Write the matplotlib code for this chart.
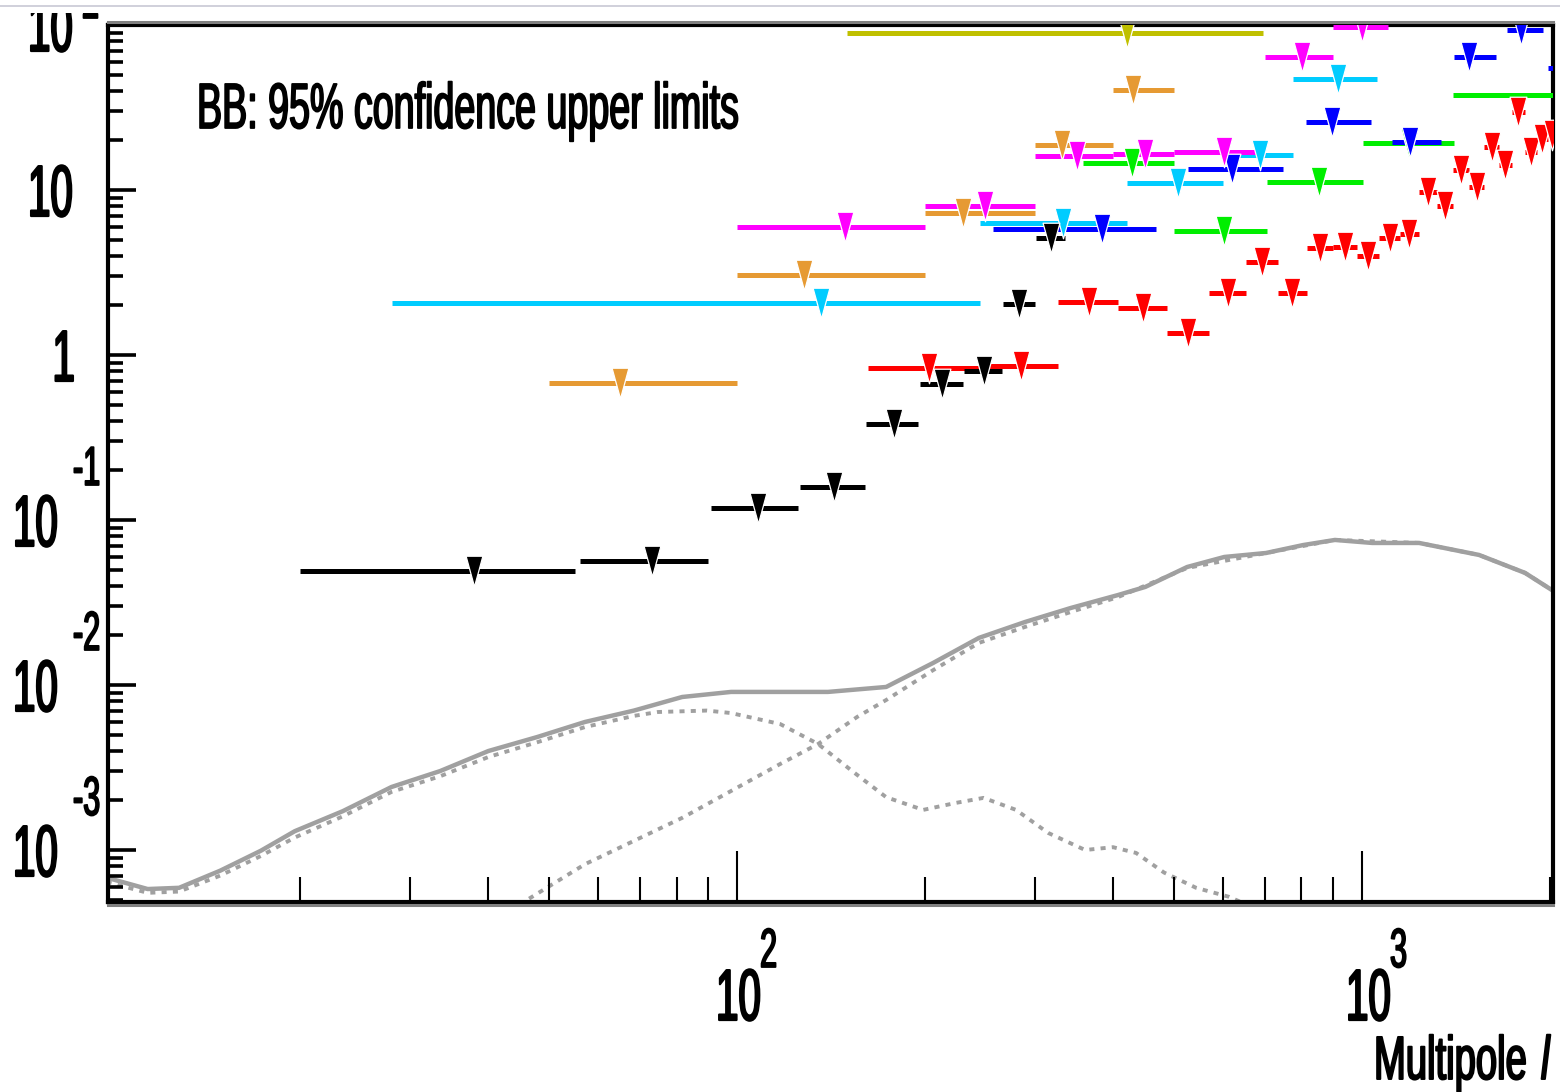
import matplotlib.pyplot as plt
from matplotlib.path import Path
from matplotlib.patches import Rectangle
from matplotlib.lines import Line2D
from matplotlib.transforms import Affine2D
from matplotlib.patheffects import AbstractPathEffect, PathEffectRenderer
from matplotlib.ticker import FixedLocator, LogLocator, NullFormatter

plt.rcParams['font.family'] = ['Liberation Sans', 'DejaVu Sans']

# --- BB 95% upper limits: bin edges, plotted multipole, limit [uK^2] ---
black_lo = [20, 56, 91, 126, 161, 196, 231, 266, 301]
black_hi = [55, 90, 125, 160, 195, 230, 265, 300, 335]
black_l = [38, 73, 108, 143, 178, 213, 248, 283, 318]
black_ul = [0.049, 0.0565, 0.118, 0.158, 0.382, 0.667, 0.80, 2.04, 5.12]

red_lo = [162, 244, 326, 407, 487, 569, 651, 733, 815, 898, 981, 1066,
          1150, 1233, 1317, 1399, 1484, 1570, 1654, 1736, 1821, 1903, 1981]
red_hi = [244, 326, 407, 487, 569, 651, 733, 815, 898, 981, 1066, 1150,
          1233, 1317, 1399, 1484, 1570, 1654, 1736, 1821, 1903, 1981, 2060]
red_l = [203, 285, 366, 447, 527, 611, 692, 773, 857, 939, 1023, 1110,
         1189, 1276, 1358, 1440, 1527, 1614, 1693, 1778, 1864, 1941, 2015]
red_ul = [0.834, 0.857, 2.10, 1.93, 1.36, 2.38, 3.66, 2.38, 4.45, 4.52, 3.98,
          5.12, 5.41, 9.7, 8.0, 13.2, 10.4, 18.2, 14.2, 29.6, 17.0, 20.4, 21.6]

orange_lo = [50, 100, 200, 300, 400]
orange_hi = [100, 200, 300, 400, 500]
orange_l = [65, 128, 230, 331, 430]
orange_ul = [0.676, 3.05, 7.26, 18.7, 40.4]

cyan_lo = [28, 245, 421, 599, 776]
cyan_hi = [245, 421, 599, 776, 1057]
cyan_l = [136, 332, 508, 687, 915]
cyan_ul = [2.07, 6.31, 11.1, 16.3, 47.1]

magenta_lo = [100, 200, 300, 400, 500, 700, 900]
magenta_hi = [200, 300, 400, 500, 700, 900, 1100]
magenta_l = [149, 249, 350, 450, 601, 802, 1000]
magenta_ul = [5.97, 8.0, 16.1, 16.5, 17.0, 64, 97]

green_lo = [358, 500, 705, 1004, 1400]
green_hi = [500, 705, 1004, 1405, 2900]
green_l = [429, 602, 854, 1188, 2150]
green_ul = [14.6, 5.65, 11.2, 19.3, 37.6]

blue_lo = [257, 527, 814, 1117, 1404, 1706, 1985]
blue_hi = [468, 747, 1034, 1338, 1639, 1948, 2400]
blue_l = [384, 619, 895, 1193, 1483, 1796, 2150]
blue_ul = [5.80, 13.4, 25.8, 19.5, 64, 93, 55]

olive_lo = [150]
olive_hi = [694]
olive_l = [421]
olive_ul = [89]

# --- model spectra: total, tensor part, lensing part ---
total_l = [9.8, 11.4, 12.8, 14.9, 17.3, 19.6, 23.4, 28.0, 33.5, 40.0, 47.9,
           57.1, 68.4, 81.7, 97.8, 117.2, 139.8, 173.2, 205.9, 243.8, 289,
           342, 407, 450, 525, 602, 702, 805, 905, 1038, 1234, 1539, 1823, 2036]
total_bb = [6.8e-4, 5.8e-4, 5.9e-4, 7.5e-4, 9.9e-4, 1.30e-3, 1.72e-3, 2.41e-3,
            3.01e-3, 3.98e-3, 4.84e-3, 5.97e-3, 7.0e-3, 8.46e-3, 9.08e-3,
            9.08e-3, 9.08e-3, 9.73e-3, 0.0136, 0.0193, 0.0241, 0.0293, 0.0351,
            0.0393, 0.0519, 0.0597, 0.0631, 0.0705, 0.0757, 0.0726, 0.0726,
            0.0614, 0.0478, 0.0366]

tensor_l = [9.8, 11.4, 12.8, 14.9, 17.3, 19.6, 23.4, 28.0, 33.5, 40.0, 47.9,
            57.1, 68.4, 74.7, 89.5, 97.8, 117.2, 134.8, 152.8, 173.2, 198.5,
            224, 248, 279.5, 314.5, 360.5, 399.6, 434.9, 482.2, 542.6, 612.8,
            686.7]
tensor_bb = [6.4e-4, 5.5e-4, 5.6e-4, 7.0e-4, 9.2e-4, 1.19e-3, 1.6e-3, 2.25e-3,
             2.8e-3, 3.66e-3, 4.5e-3, 5.56e-3, 6.5e-3, 6.86e-3, 7.0e-3, 6.76e-3,
             5.8e-3, 4.39e-3, 3.01e-3, 2.09e-3, 1.75e-3, 1.93e-3, 2.07e-3,
             1.75e-3, 1.27e-3, 1.0e-3, 1.04e-3, 9.6e-4, 7.3e-4, 5.9e-4, 5.2e-4,
             4.3e-4]

lens_l = [43.3, 57.1, 81.8, 117.2, 134.8, 155.6, 173.2, 205.9, 243.8, 289,
          342, 407, 525, 702, 905, 1234, 1539, 1823, 2036]
lens_bb = [4.3e-4, 8.2e-4, 1.57e-3, 3.32e-3, 4.39e-3, 6.4e-3, 8.11e-3, 0.0123,
           0.0180, 0.0225, 0.0277, 0.0341, 0.0512, 0.0631, 0.0757, 0.0726,
           0.0614, 0.0478, 0.0366]

# axis tick labels
x_ticks = [100, 1000]
x_exp = ['2', '3']
y_ticks = [1e-3, 1e-2, 1e-1, 1, 10, 100]
y_base = ['10', '10', '10', '1', '10', '10']
y_exp = ['-3', '-2', '-1', '', '', '2']


class TallGlyphs(AbstractPathEffect):
    """Stretch text glyphs vertically about their baseline and thicken them."""

    def __init__(self, sy, lw=0.0):
        super().__init__()
        self._sy = sy
        self._lw = lw

    def draw_path(self, renderer, gc, tpath, affine, rgbFace=None):
        if isinstance(renderer, PathEffectRenderer):
            renderer = renderer._renderer
        y0 = affine.get_matrix()[1, 2]
        stretch = Affine2D().translate(0, -y0).scale(1, self._sy).translate(0, y0)
        gc0 = renderer.new_gc()
        gc0.copy_properties(gc)
        gc0.set_linewidth(self._lw)
        gc0.set_joinstyle('round')
        renderer.draw_path(gc0, tpath, affine + stretch, rgbFace)
        gc0.restore()


W, H = 1560, 1092
fig = plt.figure(figsize=(W / 100, H / 100), dpi=100)
ax = fig.add_axes([108 / W, 1 - 902 / H, (1553 - 108) / W, (902 - 25) / H])
ax.set_xscale('log')
ax.set_yscale('log')
ax.set_xlim(9.85, 2021)
ax.set_ylim(4.84e-4, 100)

grey = '#a0a0a0'
ax.plot(total_l, total_bb, color=grey, lw=3.2, solid_joinstyle='round', zorder=1)
ax.plot(tensor_l, tensor_bb, color=grey, lw=2.8, ls=(0, (1.3, 1.6)), zorder=1)
ax.plot(lens_l, lens_bb, color=grey, lw=2.8, ls=(0, (1.3, 1.6)), zorder=1)

# long, narrow downward triangle for the limits
tri = Path([(-0.55, 1.0), (0.55, 1.0), (0.0, -1.0), (-0.55, 1.0)],
           [Path.MOVETO, Path.LINETO, Path.LINETO, Path.CLOSEPOLY])

experiments = [
    (olive_lo, olive_hi, olive_l, olive_ul, '#c0c000'),
    (green_lo, green_hi, green_l, green_ul, '#00ee00'),
    (blue_lo, blue_hi, blue_l, blue_ul, '#0000ff'),
    (cyan_lo, cyan_hi, cyan_l, cyan_ul, '#00ccff'),
    (magenta_lo, magenta_hi, magenta_l, magenta_ul, '#ff00ff'),
    (orange_lo, orange_hi, orange_l, orange_ul, '#e69a33'),
    (red_lo, red_hi, red_l, red_ul, '#ff0000'),
    (black_lo, black_hi, black_l, black_ul, '#000000'),
]
for lo, hi, ell, ul, col in experiments:
    ax.hlines(ul, lo, hi, colors=col, lw=3.6, capstyle='butt', zorder=3)
    ax.plot(ell, ul, ls='none', marker=tri, ms=22, mfc=col, mec='white',
            mew=0.9, zorder=4)

# ROOT-like frame and ticks
for sp in ax.spines.values():
    sp.set_linewidth(3)
    sp.set_zorder(2)
ax.xaxis.set_major_locator(FixedLocator(x_ticks))
ax.xaxis.set_minor_locator(LogLocator(base=10, subs=range(2, 10), numticks=20))
ax.yaxis.set_major_locator(FixedLocator(y_ticks))
ax.yaxis.set_minor_locator(LogLocator(base=10, subs=range(2, 10), numticks=20))
ax.xaxis.set_minor_formatter(NullFormatter())
ax.yaxis.set_minor_formatter(NullFormatter())
ax.tick_params(axis='x', which='major', direction='in', length=37, width=1.5,
               top=False, labelbottom=False)
ax.tick_params(axis='x', which='minor', direction='in', length=18, width=1.5,
               top=False)
ax.tick_params(axis='y', which='major', direction='in', length=20, width=2.6,
               right=False, labelleft=False)
ax.tick_params(axis='y', which='minor', direction='in', length=11, width=2.6,
               right=False)

# tick labels: stretched "10" with a raised exponent
base_fx = dict(fontsize=29, path_effects=[TallGlyphs(1.8, 1.6)],
               annotation_clip=False, textcoords='offset pixels', va='baseline')
exp_fx = dict(fontsize=22, path_effects=[TallGlyphs(1.8, 1.3)],
              annotation_clip=False, textcoords='offset pixels', va='baseline')
for v, b, e in zip(y_ticks, y_base, y_exp):
    if e.startswith('-'):
        ax.annotate(b, (0, v), xycoords=('axes fraction', 'data'),
                    xytext=(-50, -26), ha='right', **base_fx)
        ax.annotate(e, (0, v), xycoords=('axes fraction', 'data'),
                    xytext=(-35, 35), ha='left', **exp_fx)
    elif b == '1':
        ax.annotate(b, (0, v), xycoords=('axes fraction', 'data'),
                    xytext=(-33, -26), ha='right', **base_fx)
    else:
        ax.annotate(b, (0, v), xycoords=('axes fraction', 'data'),
                    xytext=(-35, -26), ha='right', **base_fx)
        if e:
            ax.annotate(e, (0, v), xycoords=('axes fraction', 'data'),
                        xytext=(-26, 7), ha='left', **exp_fx)

for v, e, dx in zip(x_ticks, x_exp, [-21, -16]):
    ax.annotate('10', (v, 0), xycoords=('data', 'axes fraction'),
                xytext=(dx, -118), ha='left', **base_fx)
    ax.annotate(e, (v, 0), xycoords=('data', 'axes fraction'),
                xytext=(dx + 44, -65), ha='left', **exp_fx)

fig.text(1374 / W, 1 - 1079 / H, 'Multipole', fontsize=27.5, ha='left',
         va='baseline', path_effects=[TallGlyphs(1.6, 1.4)])
fig.text(1541 / W, 1 - 1079 / H, 'l', fontsize=27.5, style='italic', ha='left',
         va='baseline', path_effects=[TallGlyphs(1.6, 1.4)])

ax.text((197 - 108) / 1445, (902 - 128) / 877, 'BB: 95% confidence upper limits',
        transform=ax.transAxes, fontsize=27.1, ha='left', va='baseline',
        path_effects=[TallGlyphs(1.7, 1.3)], zorder=5)

# grey shading along the outer edge of the frame
fig.add_artist(Line2D([108 / W, 1553 / W], [1 - 22 / H] * 2, transform=fig.transFigure,
                      color='#808080', lw=2.2, zorder=3))
fig.add_artist(Line2D([108 / W, 1553 / W], [1 - 905 / H] * 2, transform=fig.transFigure,
                      color='#808080', lw=2.2, zorder=3))

# cropped top edge
fig.add_artist(Rectangle((0, 1 - 13 / H), 1, 13 / H, transform=fig.transFigure,
                         facecolor='white', edgecolor='none', zorder=20))
fig.add_artist(Line2D([0, 1], [1 - 6 / H] * 2, transform=fig.transFigure,
                      color='#c8c8d4', lw=1.2, zorder=21))

fig.savefig('out.png', dpi=100)
